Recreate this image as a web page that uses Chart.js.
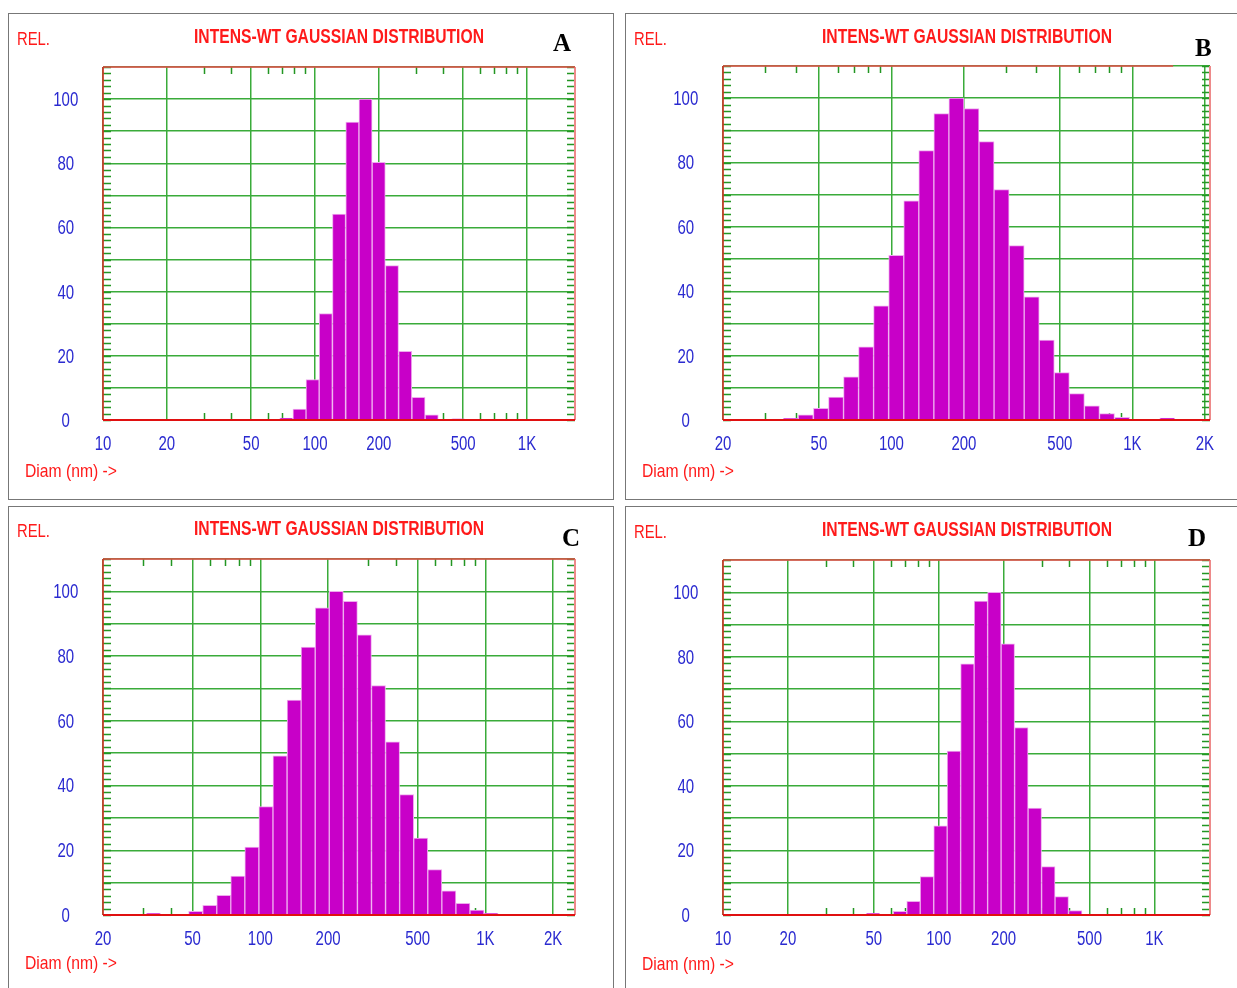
<!DOCTYPE html>
<html><head><meta charset="utf-8">
<script src="https://cdn.jsdelivr.net/npm/chart.js@4/dist/chart.umd.min.js"></script>
<style>
html,body{margin:0;padding:0;background:#fff;}
body{width:1237px;height:988px;position:relative;overflow:hidden;}
.box{position:absolute;border:1px solid #777;box-sizing:border-box;}
canvas{position:absolute;}
.t{position:absolute;white-space:nowrap;line-height:1;}
.sans{font-family:"Liberation Sans",Arial,sans-serif;}
.serif{font-family:"Liberation Serif","Times New Roman",serif;font-weight:bold;color:#000;}
</style></head><body>
<script>
// ---- data ----
const titleText = 'INTENS-WT GAUSSIAN DISTRIBUTION';
const yAxisText = 'REL.';
const xAxisText = 'Diam (nm) ->';
const panelLetters = ['A', 'B', 'C', 'D'];

const xMajorTicks = [10, 20, 50, 100, 200, 500, 1000, 2000];
const xTickLabels = ['10', '20', '50', '100', '200', '500', '1K', '2K'];
const xMinorTicks = [30, 40, 60, 70, 80, 90, 300, 400, 600, 700, 800, 900];
const yTicks = [0, 20, 40, 60, 80, 100];

const xRangeA = [10, 1684];
const xRangeB = [20, 2100];
const xRangeC = [20, 2500];
const xRangeD = [10, 1810];

const diamA = [73.2, 84.5, 97.4, 112.4, 129.8, 150.0, 173.1, 199.8, 230.7, 266.4, 307.7, 355.3, 410.4, 473.8];
const relA  = [0.6, 3.4, 12.6, 33.2, 64.2, 92.8, 100, 80.3, 48.1, 21.4, 7.1, 1.6, 0, 0.4];

const diamB = [38.2, 44.1, 51.0, 58.9, 68.0, 78.5, 90.6, 104.7, 120.9, 139.6, 161.2, 186.1, 214.9, 248.2, 286.6, 331.0, 382.2, 441.3, 509.6, 588.5, 679.5, 784.7, 906.1, 1046, 1209, 1396];
const relB  = [0.5, 1.6, 3.6, 7.1, 13.4, 22.7, 35.5, 51.2, 68.1, 83.7, 95.2, 100, 96.8, 86.5, 71.6, 54.2, 38.3, 24.8, 14.7, 8.2, 4.4, 2.0, 0.8, 0, 0, 0.6];

const diamC = [33.5, 38.7, 44.7, 51.6, 59.6, 68.8, 79.4, 91.7, 105.9, 122.3, 141.3, 163.1, 188.4, 217.5, 251.2, 290.1, 335.0, 386.9, 446.8, 515.9, 595.8, 688.0, 794.5, 917.5, 1059.5];
const relC  = [0.5, 0, 0, 1.1, 3.0, 6.1, 12.0, 21.0, 33.5, 49.2, 66.4, 82.8, 94.9, 100, 96.9, 86.6, 70.9, 53.5, 37.2, 23.8, 14.0, 7.5, 3.6, 1.5, 0.5];

const diamD = [49.6, 57.3, 66.2, 76.4, 88.2, 101.9, 117.6, 135.8, 156.9, 181.1, 209.2, 241.6, 279.0, 322.2, 372.0, 429.6];
const relD  = [0.5, 0, 1.1, 4.2, 11.9, 27.6, 50.8, 77.8, 97.3, 100, 84.0, 58.1, 33.1, 15.0, 5.7, 1.4];

// where the top frame line of panel B stops (nm)
const topBorderEndB = 1476;

// ---- layout / style ----
const SANS = '"Liberation Sans",Arial,sans-serif';
const C_BAR = '#c800c8', C_BAR_EDGE = '#eeaaee', C_GRID = '#3aab3a', C_TICK = '#239623';
const C_BLUE = '#2a2ad0', C_RED = '#ff1a1a';
const CONDENSE = 0.77;   // narrow face emulation for tick labels

const panels = [
  {letter: panelLetters[0], diam: diamA, rel: relA, range: xRangeA, box: [8, 13, 606, 487],   plot: [103, 67, 575, 420],  letterPos: [553, 51],   topEnd: null},
  {letter: panelLetters[1], diam: diamB, rel: relB, range: xRangeB, box: [625, 13, 620, 487], plot: [723, 66, 1210, 420], letterPos: [1195, 56],  topEnd: topBorderEndB},
  {letter: panelLetters[2], diam: diamC, rel: relC, range: xRangeC, box: [8, 506, 606, 490],  plot: [103, 559, 575, 915], letterPos: [562, 546],  topEnd: null},
  {letter: panelLetters[3], diam: diamD, rel: relD, range: xRangeD, box: [625, 506, 620, 490], plot: [723, 560, 1210, 915], letterPos: [1188, 546], topEnd: null}
];

function addText(txt, x, baseline, cls, size, color, bold, targetWidth, anchor) {
  const d = document.createElement('div');
  d.className = 't ' + cls;
  d.textContent = txt;
  d.style.fontSize = size + 'px';
  d.style.color = color;
  if (bold) d.style.fontWeight = 'bold';
  const asc = cls === 'serif' ? 0.8375 : 0.8465;
  d.style.top = (baseline - asc * size) + 'px';
  document.body.appendChild(d);
  let left = x;
  if (targetWidth) {
    const w = d.getBoundingClientRect().width;
    d.style.transformOrigin = 'left top';
    d.style.transform = 'scaleX(' + (targetWidth / w) + ')';
    if (anchor === 'center') left = x - targetWidth / 2;
  }
  d.style.left = left + 'px';
}

const condensePlugin = {
  id: 'condense',
  beforeDraw(chart) {
    const ctx = chart.ctx;
    ['x', 'y'].forEach(id => {
      const s = chart.scales[id];
      s.getLabelItems(chart.chartArea).forEach(it => {
        if (!it.label) return;
        ctx.save();
        ctx.font = it.font.string;
        const w = ctx.measureText(it.label).width;
        ctx.restore();
        it.options.maxWidth = w * CONDENSE;
      });
    });
  }
};

function framePlugin(p) {
  return {
    id: 'frame' + p.letter,
    beforeDatasetsDraw(chart) {
      const ctx = chart.ctx, a = chart.chartArea, xs = chart.scales.x, ys = chart.scales.y;
      ctx.save();
      ctx.strokeStyle = C_TICK; ctx.lineWidth = 1.5;
      ctx.beginPath();
      for (let v = 0; v <= 110; v += 2) {
        const y = Math.round(ys.getPixelForValue(v)) + 0.5;
        ctx.moveTo(a.left, y); ctx.lineTo(a.left + 8, y);
        ctx.moveTo(a.right, y); ctx.lineTo(a.right - 8, y);
      }
      xMinorTicks.filter(v => v > p.range[0] && v < p.range[1]).forEach(v => {
        const x = Math.round(xs.getPixelForValue(v)) + 0.5;
        ctx.moveTo(x, a.top); ctx.lineTo(x, a.top + 7);
        ctx.moveTo(x, a.bottom); ctx.lineTo(x, a.bottom - 7);
      });
      ctx.stroke();
      ctx.restore();
    },
    afterDatasetsDraw(chart) {
      const ctx = chart.ctx, a = chart.chartArea, xs = chart.scales.x;
      ctx.save();
      const line = (x1, y1, x2, y2, c, w) => { ctx.strokeStyle = c; ctx.lineWidth = w; ctx.beginPath(); ctx.moveTo(x1, y1); ctx.lineTo(x2, y2); ctx.stroke(); };
      line(a.right, a.top, a.right, a.bottom, '#ee8a8a', 2);
      const topEnd = p.topEnd ? xs.getPixelForValue(p.topEnd) : a.right;
      line(a.left, a.top, topEnd, a.top, '#e84a4a', 1.5);
      line(a.left, a.top, a.left, a.bottom, '#e02a2a', 1.5);
      line(a.left, a.bottom, a.right, a.bottom, '#e01010', 2);
      ctx.restore();
    }
  };
}

panels.forEach(p => {
  const [bx, by, bw, bh] = p.box;
  const box = document.createElement('div');
  box.className = 'box';
  Object.assign(box.style, {left: bx + 'px', top: by + 'px', width: bw + 'px', height: bh + 'px'});
  document.body.appendChild(box);

  const cv = document.createElement('canvas');
  cv.width = bw; cv.height = bh;
  Object.assign(cv.style, {left: bx + 'px', top: by + 'px', width: bw + 'px', height: bh + 'px'});
  document.body.appendChild(cv);

  const L = p.plot[0] - bx, T = p.plot[1] - by, R = p.plot[2] - bx, B = p.plot[3] - by;

  new Chart(cv, {
    type: 'bar',
    data: {
      datasets: [{
        data: p.diam.map((d, i) => ({x: d, y: p.rel[i]})),
        backgroundColor: C_BAR,
        borderColor: C_BAR_EDGE,
        borderWidth: 1,
        borderSkipped: 'bottom',
        barPercentage: 1,
        categoryPercentage: 1
      }]
    },
    options: {
      responsive: false, animation: false, devicePixelRatio: 1,
      layout: {padding: {left: 0, top: T, right: bw - R, bottom: 0}},
      plugins: {legend: {display: false}, title: {display: false}, tooltip: {enabled: false}},
      scales: {
        x: {
          type: 'logarithmic', min: p.range[0], max: p.range[1], offset: false,
          grid: {offset: false, color: C_GRID, lineWidth: 1.5, drawTicks: false},
          border: {display: false},
          afterBuildTicks: s => {
            s.ticks = xMajorTicks.filter(v => v >= p.range[0] && v <= p.range[1]).map(v => ({value: v}));
          },
          ticks: {
            autoSkip: false, maxRotation: 0, minRotation: 0, padding: 13, color: C_BLUE,
            font: {family: SANS, size: 19.5},
            callback: v => { const i = xMajorTicks.indexOf(v); return i >= 0 ? xTickLabels[i] : ''; }
          },
          afterFit: s => { s.height = bh - B; }
        },
        y: {
          min: 0, max: 110,
          grid: {color: C_GRID, lineWidth: 1.5, drawTicks: false},
          border: {display: false},
          ticks: {
            stepSize: 10, autoSkip: false, padding: 21, crossAlign: 'center', labelOffset: 1.5,
            color: C_BLUE, font: {family: SANS, size: 19.5},
            callback: v => yTicks.includes(v) ? String(v) : ''
          },
          afterFit: s => { s.width = L; }
        }
      }
    },
    plugins: [condensePlugin, framePlugin(p)]
  });

  const offY = p.plot[1] - 67;
  const cx = (p.plot[0] + p.plot[2]) / 2;
  addText(yAxisText, bx + 9, 45.3 + offY + (p.plot[1] === 66 ? 1 : 0), 'sans', 18, C_RED, false, 33, 'left');
  addText(titleText, cx, 43.3 + offY + (p.plot[1] === 66 ? 1 : 0), 'sans', 20.5, C_RED, true, 290, 'center');
  addText(xAxisText, bx + 17, 477.3 + offY + (p.plot[1] === 66 ? 1 : 0), 'sans', 19, C_RED, false, 92, 'left');
  addText(p.letter, p.letterPos[0], p.letterPos[1], 'serif', 25, '#000', true);
});
</script>
</body></html>
